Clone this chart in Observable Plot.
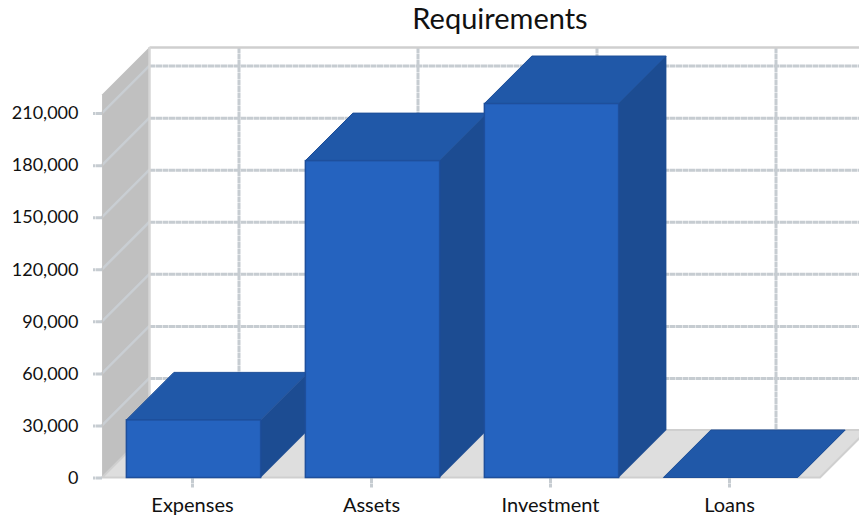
<!DOCTYPE html>
<html>
<head>
<meta charset="utf-8">
<script src="https://cdn.jsdelivr.net/npm/d3@7"></script>
<script src="https://cdn.jsdelivr.net/npm/@observablehq/plot@0.6"></script>
<style>
  html, body { margin: 0; padding: 0; background: #fff; }
  #title { height: 38px; padding-left: 141px; text-align: center;
           font: 29px/35px Lato, sans-serif; color: #111; }
  svg { display: block; }
</style>
</head>
<body>
<div id="title">Requirements</div>
<div id="chart"></div>
<script>
const categories = ["Expenses", "Assets", "Investment", "Loans"];
const requirements = [33200, 182600, 215500, 0];
const yTicks = [0, 30000, 60000, 90000, 120000, 150000, 180000, 210000];
const yTop = 220700;

const rows = categories.map((name, i) => ({name, value: requirements[i]}));

// Depth of the oblique projection, in pixels.
const depth = 47.5;
const gridColor = "#c6ccd1";
const gridDash = "6 0.5";
const edgeColor = "#cfcfcf";
const wallLeft = 102;

const poly = (points, attrs) => {
  const p = d3.create("svg:polygon").attr("points", points.map((q) => q.join(",")).join(" "));
  for (const k in attrs) p.attr(k, attrs[k]);
  return p.node();
};

// Bar faces: read the projected box from the positions the bar mark computed.
const topFace = (index, {x}, {x: X, y1, y2}) => {
  const g = d3.create("svg:g");
  const w = x.bandwidth();
  for (const i of index) {
    const t = Math.min(y1[i], y2[i]);
    g.append(() => poly(
      [[X[i], t], [X[i] + w, t], [X[i] + w + depth, t - depth], [X[i] + depth, t - depth]],
      {fill: "#2058a8", stroke: "#1e4f98", "stroke-width": 1}
    ));
  }
  return g.node();
};
const sideFace = (index, {x}, {x: X, y1, y2}) => {
  const g = d3.create("svg:g");
  const w = x.bandwidth();
  for (const i of index) {
    const t = Math.min(y1[i], y2[i]);
    const b = Math.max(y1[i], y2[i]);
    g.append(() => poly(
      [[X[i] + w, t], [X[i] + w + depth, t - depth], [X[i] + w + depth, b - depth], [X[i] + w, b]],
      {fill: "#1c4c92", stroke: "#1c4c92", "stroke-width": 0.5}
    ));
  }
  return g.node();
};

// Side wall of the box, with the value grid running across it.
const sideWall = (index, {y}) => {
  const g = d3.create("svg:g");
  const y0 = y(0), yT = y(yTop);
  g.append(() => poly(
    [[wallLeft, yT], [wallLeft + depth, yT - depth], [wallLeft + depth, y0 - depth], [wallLeft, y0]],
    {fill: "#c0c0c0"}
  ));
  const lines = g.append("g").attr("stroke-width", 2.5);
  for (const t of yTicks.slice(1)) {
    lines.append("line").attr("stroke", "#c9ced3")
      .attr("x1", wallLeft).attr("y1", y(t))
      .attr("x2", wallLeft + depth).attr("y2", y(t) - depth);
  }
  lines.append("line").attr("stroke", "#d6d6d6")
    .attr("x1", wallLeft + depth).attr("x2", wallLeft + depth)
    .attr("y1", yT - depth).attr("y2", y0 - depth);
  lines.append("line").attr("stroke", "#c4c4c4").attr("stroke-width", 1)
    .attr("x1", wallLeft + 0.5).attr("x2", wallLeft + 0.5)
    .attr("y1", yT).attr("y2", y0);
  return g.node();
};
const floor = (index, {y}, values, {width, marginRight}) => {
  const y0 = y(0);
  const right = width - marginRight;
  return poly(
    [[wallLeft, y0], [right, y0], [right + depth, y0 - depth], [wallLeft + depth, y0 - depth]],
    {fill: "#dedede", stroke: edgeColor, "stroke-width": 2}
  );
};

const chart = Plot.plot({
  width: 859,
  height: 483,
  marginTop: 56.5,
  marginBottom: 43.5,
  marginLeft: 104,
  marginRight: 39,
  style: {fontFamily: "Lato, sans-serif", overflow: "hidden"},
  x: {domain: categories, paddingInner: 0.25, paddingOuter: 0.125, round: false, label: null},
  y: {domain: [0, yTop], label: null},
  marks: [
    // Back wall grid
    Plot.ruleY(yTicks, {y: (d) => d, dx: depth - 2, dy: -depth, stroke: gridColor, strokeWidth: 3, strokeDasharray: gridDash}),
    Plot.ruleX(categories, {x: (d) => d, y1: 0, y2: yTop, dx: 45, dy: -depth, stroke: gridColor, strokeWidth: 3, strokeDasharray: gridDash}),
    Plot.ruleY([yTop], {dx: depth - 2, dy: -depth, stroke: edgeColor, strokeWidth: 2.5}),
    sideWall,
    floor,
    Plot.axisY({
      ticks: yTicks, tickFormat: d3.format(","), tickSize: 9, tickPadding: 15,
      dx: -2, fontSize: 18, stroke: gridColor, strokeWidth: 3, strokeDasharray: gridDash,
      fill: "#111", label: null
    }),
    Plot.axisX({
      tickSize: 10, tickPadding: 10, dx: -1.5, fontSize: 20, stroke: gridColor, strokeWidth: 3,
      strokeDasharray: gridDash, fill: "#111", label: null
    }),
    // Box faces, back to front so each column covers its left neighbour
    Plot.barY(rows, {x: "name", y: "value", render: sideFace}),
    Plot.barY(rows, {x: "name", y: "value", render: topFace}),
    Plot.barY(rows, {x: "name", y: "value", fill: "#2563bf", stroke: "#1e4f9c", strokeWidth: 1.5})
  ]
});
document.getElementById("chart").append(chart);
</script>
</body>
</html>
